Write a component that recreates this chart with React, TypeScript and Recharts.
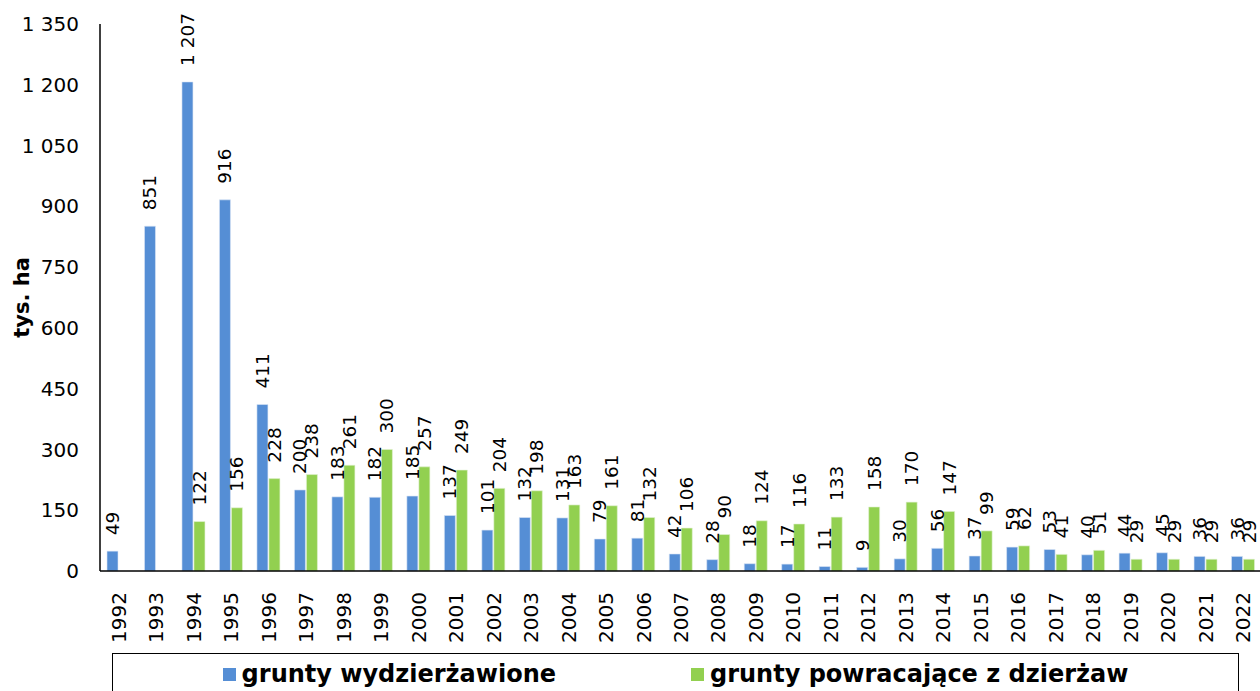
import { BarChart, Bar, XAxis, YAxis, Legend, LabelList } from 'recharts';

const years = [
    '1992', '1993', '1994', '1995', '1996', '1997', '1998', '1999', '2000', '2001', '2002',
    '2003', '2004', '2005', '2006', '2007', '2008', '2009', '2010', '2011', '2012', '2013',
    '2014', '2015', '2016', '2017', '2018', '2019', '2020', '2021', '2022',
];

// grunty wydzierżawione (tys. ha)
const leased = [
    49, 851, 1207, 916, 411, 200, 183, 182, 185, 137, 101,
    132, 131, 79, 81, 42, 28, 18, 17, 11, 9, 30,
    56, 37, 59, 53, 40, 44, 45, 36, 36,
];

// grunty powracające z dzierżaw (tys. ha)
const returned = [
    null, null, 122, 156, 228, 238, 261, 300, 257, 249, 204,
    198, 163, 161, 132, 106, 90, 124, 116, 133, 158, 170,
    147, 99, 62, 41, 51, 29, 29, 29, 29,
];

const yTicks = [0, 150, 300, 450, 600, 750, 900, 1050, 1200, 1350];

const BLUE = '#558ED5';
const GREEN = '#92D050';
const FONT = '"DejaVu Sans", Verdana, sans-serif';

const data = years.map((year, i) => ({ year, leased: leased[i], returned: returned[i] }));

const fmt = (v: number) => String(v).replace(/\B(?=(\d{3})+(?!\d))/g, ' ');

const BarLabel = (props: any) => {
    const { x, y, width, value } = props;
    if (value == null) return null;
    const cx = Number(x) + Number(width) / 2;
    const ty = Number(y) - 16;
    return (
        <text
            x={cx}
            y={ty}
            transform={`rotate(-90, ${cx}, ${ty})`}
            textAnchor="start"
            dominantBaseline="central"
            fontSize={18.5}
            fontFamily={FONT}
            fill="#000"
        >
            {fmt(value)}
        </text>
    );
};

const YearTick = (props: any) => {
    const { x, y, payload } = props;
    const ty = y + 13;
    return (
        <text
            x={x}
            y={ty}
            transform={`rotate(-90, ${x}, ${ty})`}
            textAnchor="end"
            dominantBaseline="central"
            fontSize={20}
            fontFamily={FONT}
            fill="#000"
        >
            {payload.value}
        </text>
    );
};

const LegendBox = () => (
    <div
        style={{
            height: 38,
            borderTop: '1px solid #000',
            borderLeft: '1px solid #000',
            borderRight: '1px solid #000',
            display: 'flex',
            justifyContent: 'center',
            alignItems: 'flex-start',
            gap: 135,
            paddingTop: 7,
            boxSizing: 'border-box',
            fontFamily: FONT,
            fontWeight: 'bold',
            fontSize: 24,
            color: '#000',
            lineHeight: '26px',
        }}
    >
        {[
            { name: 'grunty wydzierżawione', color: BLUE },
            { name: 'grunty powracające z dzierżaw', color: GREEN },
        ].map((item) => (
            <div key={item.name} style={{ display: 'flex', alignItems: 'center' }}>
                <span style={{ width: 13, height: 13, background: item.color, marginRight: 6, display: 'inline-block' }} />
                <span>{item.name}</span>
            </div>
        ))}
    </div>
);

export default function App() {
    return (
        <div style={{ position: 'absolute', left: 0, top: 0, width: 1260, height: 691, background: '#fff', overflow: 'hidden' }}>
            <BarChart
                width={1260}
                height={691}
                data={data}
                margin={{ top: 24, right: -2, left: 0, bottom: 0 }}
                barSize={11}
                barGap={1}
            >
                <XAxis
                    dataKey="year"
                    interval={0}
                    height={82}
                    tick={<YearTick />}
                    tickLine={false}
                    axisLine={{ stroke: '#000', strokeWidth: 1.5 }}
                />
                <YAxis
                    domain={[0, 1350]}
                    ticks={yTicks}
                    width={100}
                    tickFormatter={fmt}
                    tick={{ fontSize: 20, fill: '#000', fontFamily: FONT }}
                    tickLine={false}
                    tickSize={10}
                    tickMargin={11}
                    axisLine={{ stroke: '#000', strokeWidth: 1.5 }}
                    label={{
                        value: 'tys. ha',
                        angle: -90,
                        position: 'insideLeft',
                        offset: 0,
                        dx: 22,
                        style: { fontSize: 21, fontWeight: 'bold', fill: '#000', fontFamily: FONT, textAnchor: 'middle' },
                    }}
                />
                <Legend
                    verticalAlign="bottom"
                    content={<LegendBox />}
                    wrapperStyle={{ left: 112, width: 1127 }}
                />
                <Bar dataKey="leased" name="grunty wydzierżawione" fill={BLUE} stroke="#dbe6f5" strokeWidth={0.6} isAnimationActive={false}>
                    <LabelList dataKey="leased" content={<BarLabel />} />
                </Bar>
                <Bar dataKey="returned" name="grunty powracające z dzierżaw" fill={GREEN} stroke="#e3f2d3" strokeWidth={0.6} isAnimationActive={false}>
                    <LabelList dataKey="returned" content={<BarLabel />} />
                </Bar>
            </BarChart>
        </div>
    );
}
